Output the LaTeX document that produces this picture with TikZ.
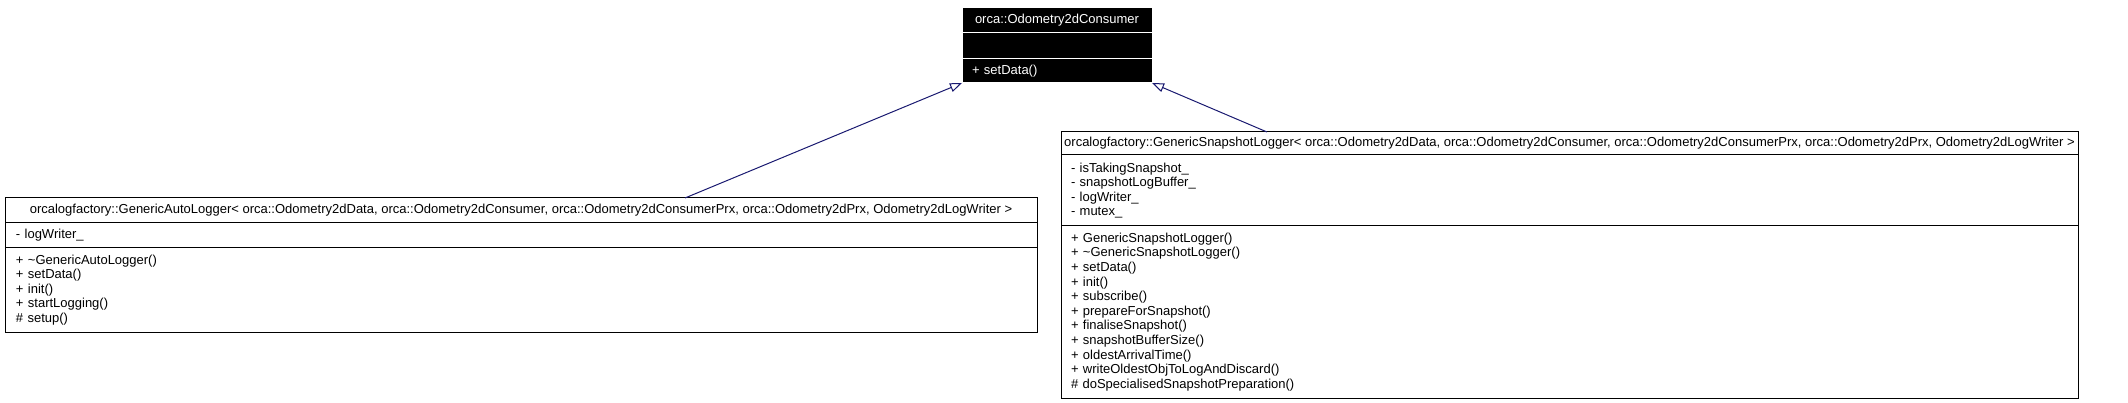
\documentclass[tikz,border=0pt]{standalone}
\usepackage{fontspec}
\setmainfont{Liberation Sans}
\usetikzlibrary{arrows.meta}
\usetikzlibrary{positioning}
\definecolor{umlblue}{RGB}{25,25,112}
\newcommand{\umlfont}{\fontsize{13}{14.6}\selectfont}
\tikzset{member/.style = {draw, rectangle, line width = 1pt, outer sep = 0pt, inner xsep = 11pt, inner ysep = 3pt, align = left, font = \umlfont}}
\tikzset{classname/.style = {member, inner xsep = 3pt, align = center}}
\tikzset{inverted/.style = {fill = black, draw = white, text = white}}
\tikzset{inherit/.style = {draw = umlblue, line width = 1pt, -{Triangle[open, length = 12pt, width = 9pt]}}}

\begin{document}
\begin{tikzpicture}[x = 1pt, y = -1pt]
    \useasboundingbox (0, 0) rectangle (2128, 403);
    \node [classname, inverted, anchor = north west, minimum width = 190pt, minimum height = 25pt] (consTitle) at (962, 8) {orca::Odometry2dConsumer};
    \node [member, inverted, below = 0pt of consTitle, inner xsep = 10pt, text width = 170pt, minimum height = 26pt] (consAttr) {};
    \node [member, inverted, below = 0pt of consAttr, inner xsep = 10pt, text width = 170pt, minimum height = 24pt] (consOps) {+ setData()};
    \node [classname, anchor = north west, minimum width = 1032pt, minimum height = 25pt] (autoTitle) at (5, 198) {orcalogfactory::GenericAutoLogger< orca::Odometry2dData, orca::Odometry2dConsumer, orca::Odometry2dConsumerPrx, orca::Odometry2dPrx, Odometry2dLogWriter >};
    \node [member, below = 0pt of autoTitle, text width = 1010pt, minimum height = 25pt] (autoAttr) {- logWriter\_};
    \node [member, below = 0pt of autoAttr, text width = 1010pt, minimum height = 84pt] (autoOps) {+ \textasciitilde GenericAutoLogger()\\+ setData()\\+ init()\\+ startLogging()\\\# setup()};
    \node [classname, anchor = north west, minimum width = 1017pt, minimum height = 23pt] (snapTitle) at (1061, 132) {orcalogfactory::GenericSnapshotLogger< orca::Odometry2dData, orca::Odometry2dConsumer, orca::Odometry2dConsumerPrx, orca::Odometry2dPrx, Odometry2dLogWriter >};
    \node [member, below = 0pt of snapTitle, inner xsep = 10pt, text width = 997pt, minimum height = 71pt] (snapAttr) {- isTakingSnapshot\_\\- snapshotLogBuffer\_\\- logWriter\_\\- mutex\_};
    \node [member, below = 0pt of snapAttr, inner xsep = 10pt, text width = 997pt, minimum height = 172pt] (snapOps) {+ GenericSnapshotLogger()\\+ \textasciitilde GenericSnapshotLogger()\\+ setData()\\+ init()\\+ subscribe()\\+ prepareForSnapshot()\\+ finaliseSnapshot()\\+ snapshotBufferSize()\\+ oldestArrivalTime()\\+ writeOldestObjToLogAndDiscard()\\\# doSpecialisedSnapshotPreparation()};
    \draw [inherit] ([xshift = 680pt] autoTitle.north west) -- (consOps.south west);
    \draw [inherit] ([xshift = 206pt] snapTitle.north west) -- (consOps.south east);
\end{tikzpicture}
\end{document}
